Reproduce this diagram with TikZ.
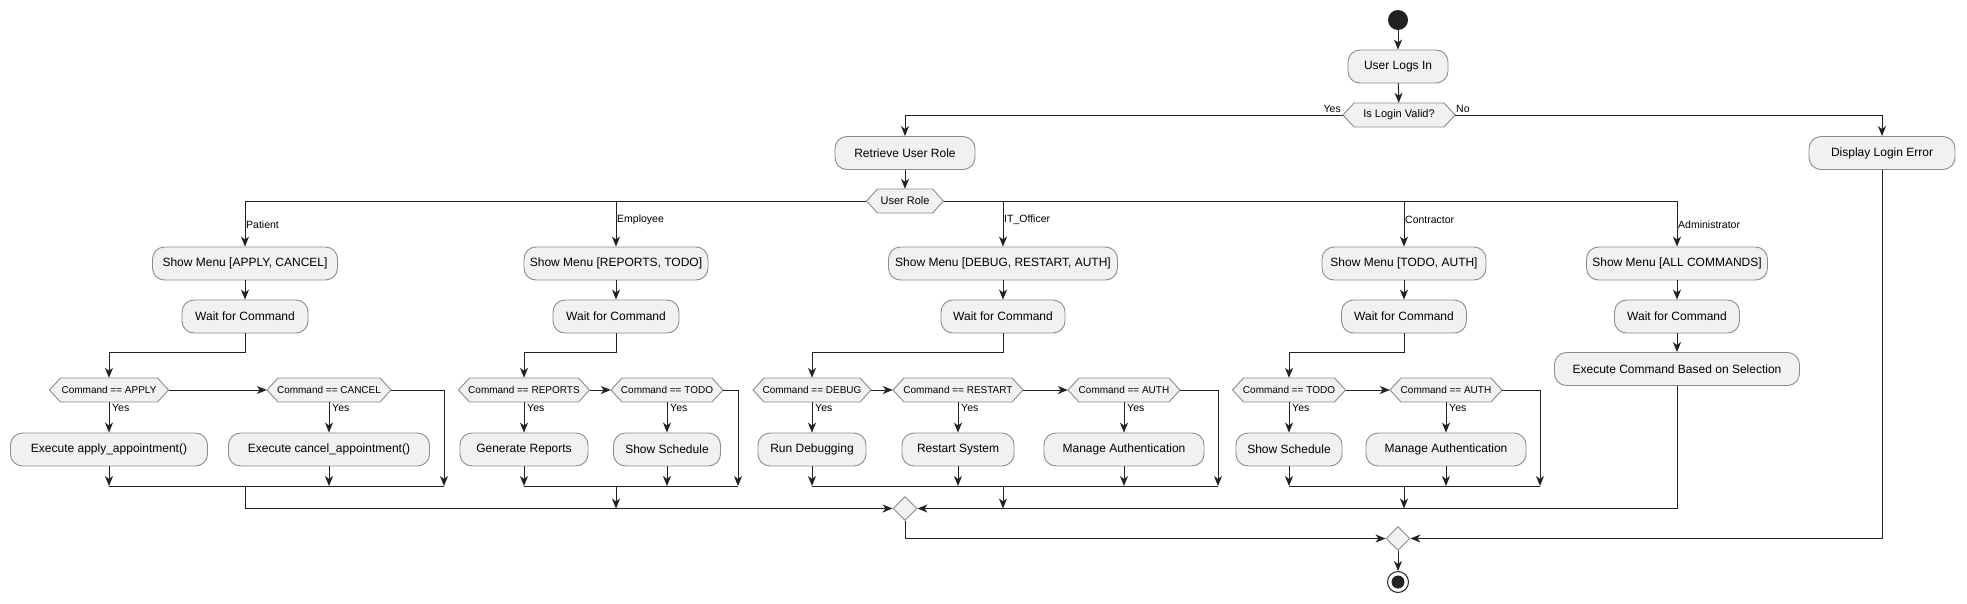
\documentclass[tikz,border=0pt]{standalone}
\usepackage{fontspec}
\setmainfont{Liberation Sans}
\usetikzlibrary{arrows.meta,shapes.geometric}
\definecolor{boxfill}{HTML}{F1F1F1}
\definecolor{boxline}{HTML}{8C8C8C}
\definecolor{lncol}{HTML}{222222}
\newcommand\hexnode[5]{%
  \path[hexsty] ({#2-#4/2},#3) -- ({#2-#4/2+11},{#3-12}) -- ({#2+#4/2-11},{#3-12}) -- ({#2+#4/2},#3) -- ({#2+#4/2-11},{#3+12}) -- ({#2-#4/2+11},{#3+12}) -- cycle;
  \node[hexlab, minimum width=#4] (#1) at (#2,#3) {#5};}
\begin{document}
\begin{tikzpicture}[x=1pt,y=-1pt,
  act/.style={draw=boxline, fill=boxfill, line width=0.9pt, rounded corners=12pt, minimum height=33, inner sep=0pt, font=\fontsize{12}{14}\selectfont},
  hexlab/.style={inner sep=0pt, minimum height=24, font=\fontsize{10}{12}\selectfont},
  hexsty/.style={draw=boxline, fill=boxfill, line width=0.9pt},
  dia/.style={diamond, draw=boxline, fill=boxfill, line width=0.9pt, minimum width=24, minimum height=24, inner sep=0pt},
  lbl/.style={font=\fontsize{10.5}{12}\selectfont, inner sep=1pt},
  ar/.style={draw=lncol, line width=1pt, -{Stealth[length=10pt,width=8pt,inset=3pt]}},
  plain/.style={draw=lncol, line width=1pt},
]
\useasboundingbox (0,0) rectangle (1967,603);
\fill[white] (0,0) rectangle (1967,603);

% top
\node[circle, fill=lncol, minimum size=20, inner sep=0pt] (start) at (1398,20) {};
\node[act, minimum width=100] (login) at (1398,66.5) {User Logs In};
\hexnode{valid}{1399}{115}{112}{\fontsize{11}{12}\selectfont Is Login Valid?}
\node[act, minimum width=140] (retrieve) at (905,153) {Retrieve User Role};
\node[act, minimum width=146] (err) at (1882,153) {Display Login Error};
\hexnode{role}{905}{201}{77}{\fontsize{11}{12}\selectfont User Role}

% menus
\node[act, minimum width=185] (pm) at (245,263.5) {Show Menu [APPLY, CANCEL]};
\node[act, minimum width=184] (em) at (616,263.5) {Show Menu [REPORTS, TODO]};
\node[act, minimum width=229] (im) at (1003,263.5) {Show Menu [DEBUG, RESTART, AUTH]};
\node[act, minimum width=164] (cm) at (1404,263.5) {Show Menu [TODO, AUTH]};
\node[act, minimum width=181] (am) at (1677,263.5) {Show Menu [ALL COMMANDS]};

% waits
\node[act, minimum width=126] (pw) at (245,316.5) {Wait for Command};
\node[act, minimum width=126] (ew) at (616,316.5) {Wait for Command};
\node[act, minimum width=124] (iw) at (1003,316.5) {Wait for Command};
\node[act, minimum width=125] (cw) at (1404,316.5) {Wait for Command};
\node[act, minimum width=125] (aw) at (1677,316.5) {Wait for Command};
\node[act, minimum width=245] (ax) at (1677,369) {Execute Command Based on Selection};

% decisions
\hexnode{pd1}{109}{390}{119}{Command == APPLY}
\hexnode{pd2}{329}{390}{124}{Command == CANCEL}
\hexnode{ed1}{524}{390}{131}{Command == REPORTS}
\hexnode{ed2}{667}{390}{112}{Command == TODO}
\hexnode{id1}{812}{390}{118}{Command == DEBUG}
\hexnode{id2}{958}{390}{130}{Command == RESTART}
\hexnode{id3}{1124}{390}{112}{Command == AUTH}
\hexnode{cd1}{1289}{390}{113}{Command == TODO}
\hexnode{cd2}{1446}{390}{112}{Command == AUTH}

% actions
\node[act, minimum width=197] (pa1) at (109,449.5) {Execute apply\_appointment()};
\node[act, minimum width=201] (pa2) at (329,449.5) {Execute cancel\_appointment()};
\node[act, minimum width=128] (ea1) at (524,449.5) {Generate Reports};
\node[act, minimum width=107] (ea2) at (667,449.5) {Show Schedule};
\node[act, minimum width=108] (ia1) at (812,449.5) {Run Debugging};
\node[act, minimum width=112] (ia2) at (958,449.5) {Restart System};
\node[act, minimum width=160] (ia3) at (1124,449.5) {Manage Authentication};
\node[act, minimum width=106] (ca1) at (1289,449.5) {Show Schedule};
\node[act, minimum width=160] (ca2) at (1446,449.5) {Manage Authentication};

% merges
\node[dia] (mg) at (905,508.5) {};
\node[dia] (fm) at (1398,538.5) {};
\node[circle, draw=lncol, line width=1pt, fill=white, minimum size=21, inner sep=0pt] (end) at (1398,582) {};
\fill[lncol] (end.center) circle (6.5);

\coordinate (pr) at (444,486);
\coordinate (er) at (738,486);
\coordinate (ir) at (1218,486);
\coordinate (cr) at (1540,486);

% top connectors
\draw[ar] (start) -- (login);
\draw[ar] (login) -- (valid);
\draw[ar] (valid.west) -| (retrieve.north);
\draw[ar] (valid.east) -| (err.north);
\node[lbl, anchor=east] at (1342,109) {Yes};
\node[lbl, anchor=west] at (1455,109) {No};
\draw[ar] (retrieve) -- (role);
\draw[ar] (role.west) -| (pm.north);
\draw[ar] (role.west) -| (em.north);
\draw[ar] (role.east) -| (im.north);
\draw[ar] (role.east) -| (cm.north);
\draw[ar] (role.east) -| (am.north);
\node[lbl, anchor=west] at (245,225) {Patient};
\node[lbl, anchor=west] at (616,220) {Employee};
\node[lbl, anchor=west] at (1003,220) {IT\_Officer};
\node[lbl, anchor=west] at (1404,220) {Contractor};
\node[lbl, anchor=west] at (1677,225) {Administrator};

% menus to waits
\foreach \m/\w in {pm/pw,em/ew,im/iw,cm/cw,am/aw} \draw[ar] (\m) -- (\w);
\draw[ar] (aw) -- (ax);

% wait to first decision
\draw[ar] (pw.south) -- ++(0,19) -| (pd1.north);
\draw[ar] (ew.south) -- ++(0,19) -| (ed1.north);
\draw[ar] (iw.south) -- ++(0,19) -| (id1.north);
\draw[ar] (cw.south) -- ++(0,19) -| (cd1.north);

% decision chains
\draw[ar] (pd1.east) -- (pd2.west);
\draw[ar] (ed1.east) -- (ed2.west);
\draw[ar] (id1.east) -- (id2.west);
\draw[ar] (id2.east) -- (id3.west);
\draw[ar] (cd1.east) -- (cd2.west);

% yes branches
\foreach \d/\a in {pd1/pa1,pd2/pa2,ed1/ea1,ed2/ea2,id1/ia1,id2/ia2,id3/ia3,cd1/ca1,cd2/ca2}{
  \draw[ar] (\d.south) -- (\a.north);
  \node[lbl, anchor=west] at ([xshift=2pt,yshift=-6pt]\d.south) {Yes};
}

% fall-through
\draw[ar] (pd2.east) -| (pr);
\draw[ar] (ed2.east) -| (er);
\draw[ar] (id3.east) -| (ir);
\draw[ar] (cd2.east) -| (cr);

% action to sub-merge
\foreach \a/\r in {pa1/pr,pa2/pr,ea1/er,ea2/er,ia1/ir,ia2/ir,ia3/ir,ca1/cr,ca2/cr}
  \draw[ar] (\a.south) -- (\a.south |- \r);
\draw[plain] (pa1.south |- pr) -- (pr);
\draw[plain] (ea1.south |- er) -- (er);
\draw[plain] (ia1.south |- ir) -- (ir);
\draw[plain] (ca1.south |- cr) -- (cr);

% sub-merges to big merge
\draw[ar] (pw.south |- pr) |- (mg.west);
\draw[ar] (ax.south) |- (mg.east);
\draw[ar] (ew.south |- er) -- (ew.south |- mg.west);
\draw[ar] (iw.south |- ir) -- (iw.south |- mg.east);
\draw[ar] (cw.south |- cr) -- (cw.south |- mg.east);

% final
\draw[ar] (mg.south) |- (fm.west);
\draw[ar] (err.south) |- (fm.east);
\draw[ar] (fm.south) -- (end.north);
\end{tikzpicture}
\end{document}
